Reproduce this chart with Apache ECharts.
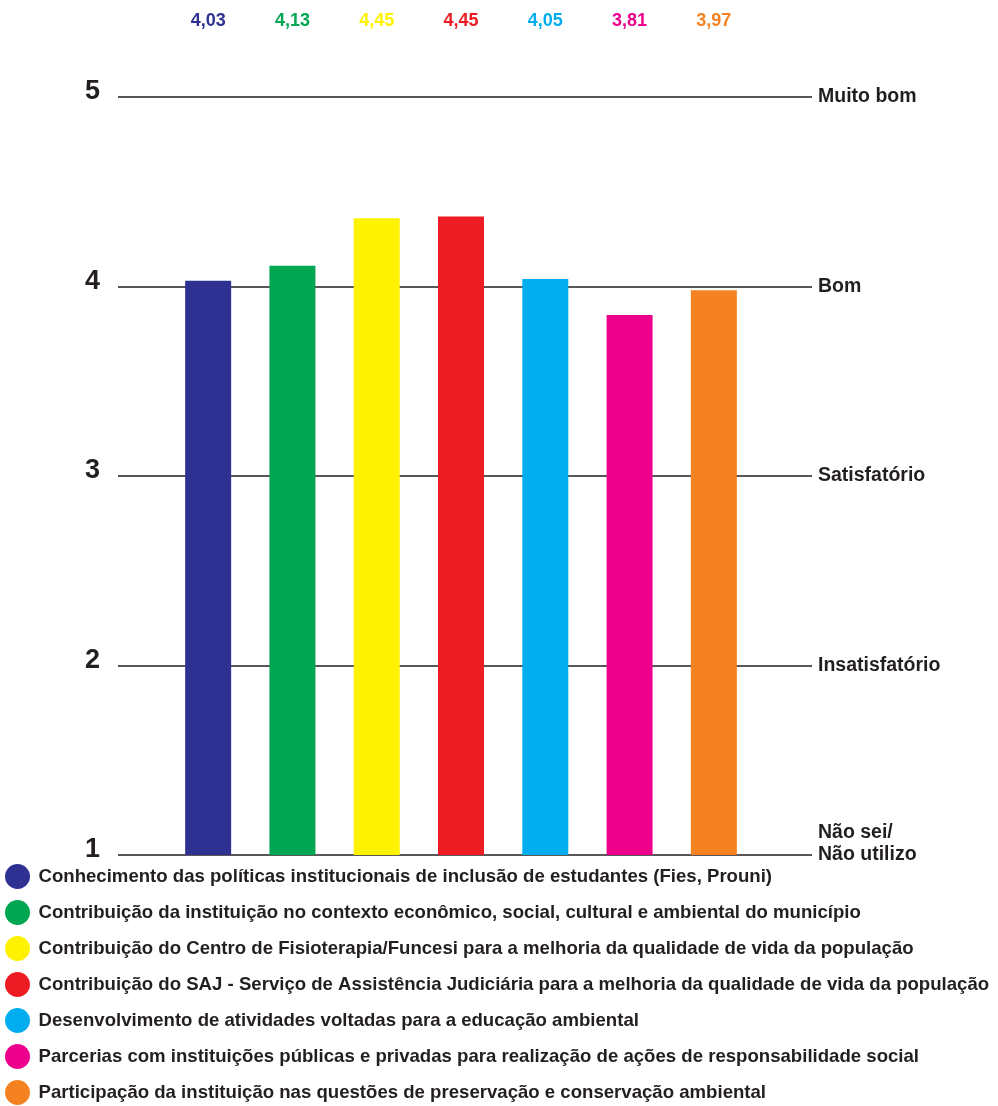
<!DOCTYPE html>
<html><head><meta charset="utf-8">
<script src="https://cdn.jsdelivr.net/npm/echarts@6/dist/echarts.min.js"></script>
<style>html,body{margin:0;padding:0;background:#fff}#c{width:998px;height:1106px}</style>
</head><body><div id="c"></div>
<script>
const categories = [
  'Conhecimento das políticas institucionais de inclusão de estudantes (Fies, Prouni)',
  'Contribuição da instituição no contexto econômico, social, cultural e ambiental do município',
  'Contribuição do Centro de Fisioterapia/Funcesi para a melhoria da qualidade de vida da população',
  'Contribuição do SAJ - Serviço de Assistência Judiciária para a melhoria da qualidade de vida da população',
  'Desenvolvimento de atividades voltadas para a educação ambiental',
  'Parcerias com instituições públicas e privadas para realização de ações de responsabilidade social',
  'Participação da instituição nas questões de preservação e conservação ambiental'
];
// bar heights as drawn in the picture
const barValues = [4.03, 4.11, 4.36, 4.37, 4.04, 3.85, 3.98];
// values printed above the chart
const printedValues = ['4,03', '4,13', '4,45', '4,45', '4,05', '3,81', '3,97'];
const colors = ['#2E3192', '#00A651', '#FFF200', '#ED1C24', '#00AEEF', '#EC008C', '#F58220'];
const scaleLabels = { 1: 'Não sei/\nNão utilizo\n', 2: 'Insatisfatório', 3: 'Satisfatório', 4: 'Bom', 5: 'Muito bom' };

const FONT = '"Liberation Sans Narrow", "Liberation Sans", Arial, sans-serif';
const rich = {};
colors.forEach((c, i) => { rich['c' + i] = { color: c, fontSize: 18, fontWeight: 'bold', fontFamily: FONT }; });

const series = categories.map((name, i) => ({
  name: name,
  type: 'bar',
  xAxisIndex: 1,
  yAxisIndex: 2,
  barWidth: 46,
  barGap: '-100%',
  clip: true,
  itemStyle: { color: colors[i] },
  data: barValues.map((v, j) => (j === i ? v : '-'))
}));

const chart = echarts.init(document.getElementById('c'));
chart.setOption({
  animation: false,
  backgroundColor: '#fff',
  grid: [
    { left: 118, right: 186, top: 97, bottom: 251 },
    { left: 166, right: 242, top: 97, bottom: 251 }
  ],
  xAxis: [
    { gridIndex: 0, type: 'value', show: false, min: 0, max: 1 },
    { gridIndex: 1, type: 'category', data: categories, position: 'top',
      axisLine: { show: false }, axisTick: { show: false },
      axisLabel: { margin: 67, interval: 0, rich: rich,
        formatter: (v, i) => '{c' + i + '|' + printedValues[i] + '}' } }
  ],
  yAxis: [
    { gridIndex: 0, type: 'value', min: 1, max: 5, interval: 1, position: 'left',
      axisLine: { show: false }, axisTick: { show: false },
      splitLine: { lineStyle: { color: '#231F20', width: 1.5 } },
      axisLabel: { margin: 18, fontSize: 27, fontWeight: 'bold', color: '#231F20', fontFamily: FONT,
        verticalAlign: 'bottom', lineHeight: 10 } },
    { gridIndex: 0, type: 'value', min: 1, max: 5, interval: 1, position: 'right',
      axisLine: { show: false }, axisTick: { show: false }, splitLine: { show: false },
      axisLabel: { margin: 6, fontSize: 19.5, fontWeight: 'bold', color: '#231F20', fontFamily: FONT,
        lineHeight: 22, padding: [0, 0, 7, 0], align: 'left',
        formatter: v => scaleLabels[v] || '' } },
    { gridIndex: 1, type: 'value', min: 1, max: 5, interval: 1, show: false }
  ],
  legend: {
    orient: 'vertical', left: 5, top: 864, padding: 0,
    icon: 'circle', itemWidth: 28, itemHeight: 25, itemGap: 11,
    textStyle: { fontSize: 18.6, fontWeight: 'bold', color: '#231F20', fontFamily: FONT, padding: [0, 0, 0, 2] },
    data: categories
  },
  series: series
});
</script></body></html>
